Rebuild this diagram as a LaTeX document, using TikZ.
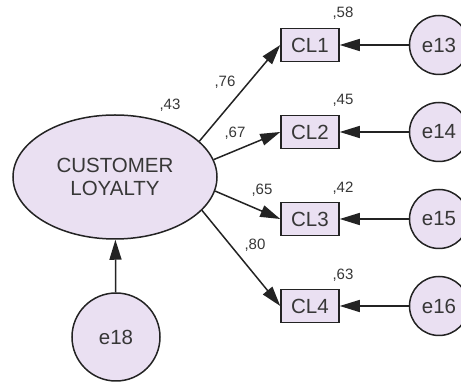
\documentclass[tikz,border=0pt]{standalone}
\usepackage{fontspec}
\setmainfont{Liberation Sans}
\usepackage{tikz}
\usetikzlibrary{positioning}
\usetikzlibrary{arrows.meta}
\usetikzlibrary{shapes.geometric}
\definecolor{lilac}{RGB}{234,224,242}
\definecolor{inkgray}{RGB}{35,35,35}
\definecolor{txtgray}{RGB}{55,55,55}
\tikzset {
  x=1pt, y=1pt,
  % latent variable
  latent/.style={draw=inkgray, fill=lilac, ellipse, line width=1.5pt,
    minimum width=204pt, minimum height=124pt, inner sep=0pt, align=center,
    text=txtgray, font=\fontsize{20.5}{23}\selectfont},
  % observed indicators
  obs/.style={draw=inkgray, fill=lilac, rectangle, line width=1.5pt,
    minimum width=58pt, minimum height=33pt, inner sep=0pt,
    text=txtgray, font=\fontsize{20.5}{23}\selectfont},
  % error terms
  err/.style={draw=inkgray, fill=lilac, circle, line width=1.5pt,
    minimum size=59pt, inner sep=0pt,
    text=txtgray, font=\fontsize{20.5}{23}\selectfont},
  num/.style={text=txtgray, inner sep=0pt, font=\fontsize{15}{17}\selectfont},
  arr/.style={-{Triangle[length=20pt, width=12pt]}, draw=inkgray, line width=1.5pt},
}
\begin{document}
\begin{tikzpicture}
  \useasboundingbox (0,0) rectangle (461,385);

  \node[latent] (loyal) at (115,208) {CUSTOMER\\LOYALTY};
  \node[err, minimum size=88pt] (e18) at (116,48) {e18};

  \node[obs] (cl1) at (310,340) {CL1};
  \node[obs] (cl2) [below=52.5pt of cl1] {CL2};
  \node[obs] (cl3) [below=52.5pt of cl2] {CL3};
  \node[obs] (cl4) [below=52.5pt of cl3] {CL4};

  \node[err] (e13) [right=69pt of cl1] {e13};
  \node[err] (e14) [right=69pt of cl2] {e14};
  \node[err] (e15) [right=69pt of cl3] {e15};
  \node[err] (e16) [right=69pt of cl4] {e16};

  \draw[arr] (loyal.23) -- (cl1.west);
  \draw[arr] (loyal.10) -- (cl2.west);
  \draw[arr] (loyal.-8) -- (cl3.west);
  \draw[arr] (loyal.-21) -- (cl4.west);

  \draw[arr] (e13) -- (cl1);
  \draw[arr] (e14) -- (cl2);
  \draw[arr] (e15) -- (cl3);
  \draw[arr] (e16) -- (cl4);
  \draw[arr] (e18) -- (loyal);

  % squared multiple correlations
  \node[num] (r0) at (170,280) {,43};
  \node[num] (r1) at (343,372) {,58};
  \node[num] (r2) at (343,285) {,45};
  \node[num] (r3) at (343,197) {,42};
  \node[num] (r4) at (343,110) {,63};

  % loadings
  \node[num] (w1) at (225,303) {,76};
  \node[num] (w2) at (235,252) {,67};
  \node[num] (w3) at (262,195) {,65};
  \node[num] (w4) at (255,140) {,80};
\end{tikzpicture}
\end{document}
